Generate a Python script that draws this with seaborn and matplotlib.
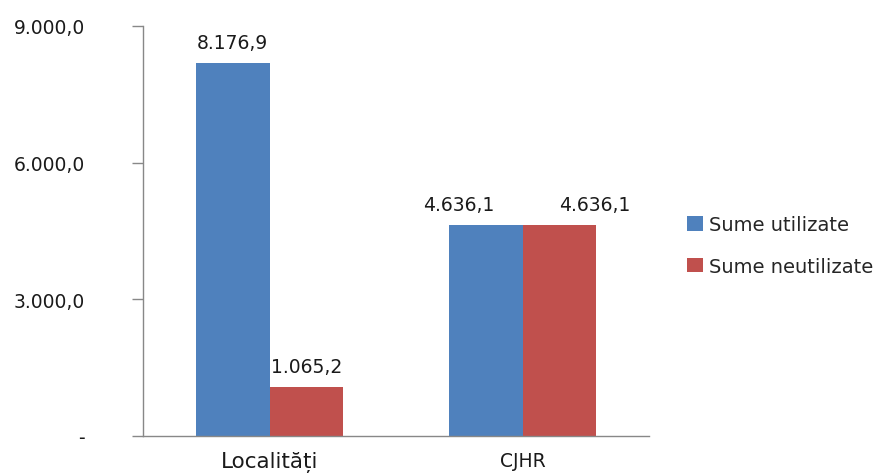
import pandas as pd
import matplotlib
matplotlib.use("Agg")
import matplotlib.pyplot as plt
import seaborn as sns

categories = ["Localități", "CJHR"]
series = ["Sume utilizate", "Sume neutilizate"]
sume_utilizate = [8176.9, 4636.1]
sume_neutilizate = [1065.2, 4636.1]
y_ticks = [0, 3000, 6000, 9000]
colors = ["#4F81BD", "#C0504D"]


def fmt_ro(v):
    # 8176.9 -> "8.176,9"
    s = f"{v:,.1f}"
    return s.replace(",", "X").replace(".", ",").replace("X", ".")


df = pd.DataFrame({
    "categorie": categories * 2,
    "serie": [series[0]] * 2 + [series[1]] * 2,
    "valoare": sume_utilizate + sume_neutilizate,
})

sns.set_style("white")
plt.rcParams["font.family"] = ["DejaVu Sans"]

fig = plt.figure(figsize=(8.85, 4.77), dpi=100)
ax = fig.add_axes([0.1616, 0.0839, 0.5718, 0.8595])

sns.barplot(data=df, x="categorie", y="valoare", hue="serie",
            order=categories, hue_order=series, palette=colors,
            width=0.58, saturation=1, linewidth=0, ax=ax)

# value labels; the two equal CJHR labels are pushed apart as in the original
shift = {(0, 1): (-19.5, 0), (1, 1): (25.5, 0)}
for si, cont in enumerate(ax.containers):
    for ci, bar in enumerate(cont):
        h = bar.get_height()
        dx, _ = shift.get((si, ci), (0, 0))
        ax.annotate(fmt_ro(h), (bar.get_x() + bar.get_width() / 2, h),
                    xytext=(dx, 8), textcoords="offset points",
                    ha="center", va="bottom", fontsize=13.5, color="#1a1a1a")

ax.set_xlim(-0.5, 1.5)
ax.set_ylim(0, 9000)
ax.set_yticks(y_ticks)
ax.set_yticklabels(["-" if t == 0 else fmt_ro(t) for t in y_ticks],
                   fontsize=13.5, color="#1a1a1a")
ax.set_xlabel("")
ax.set_ylabel("")

# category-boundary ticks like the original
ax.set_xticks([0, 1])
ax.set_xticks([-0.5, 0.5, 1.5], minor=True)
ax.tick_params(axis="x", which="major", length=0, pad=11)
ax.tick_params(axis="x", which="minor", length=7, color="#888888", width=1)
ax.tick_params(axis="y", length=8, color="#888888", width=1, left=True, pad=34)
labels = ax.get_xticklabels()
labels[0].set_fontsize(15.5)
labels[1].set_fontsize(13.5)
for lb in labels:
    lb.set_color("#1a1a1a")

for side in ["top", "right"]:
    ax.spines[side].set_visible(False)
for side in ["left", "bottom"]:
    ax.spines[side].set_color("#888888")
    ax.spines[side].set_linewidth(1)

handles, lbls = ax.get_legend_handles_labels()
ax.get_legend().remove()
fig.legend(handles, lbls, loc="center left", bbox_to_anchor=(0.757, 0.483),
           frameon=False, fontsize=14, handlelength=0.8, handleheight=0.8,
           handletextpad=0.3, labelspacing=1.15)

fig.savefig("out.png", dpi=100)
